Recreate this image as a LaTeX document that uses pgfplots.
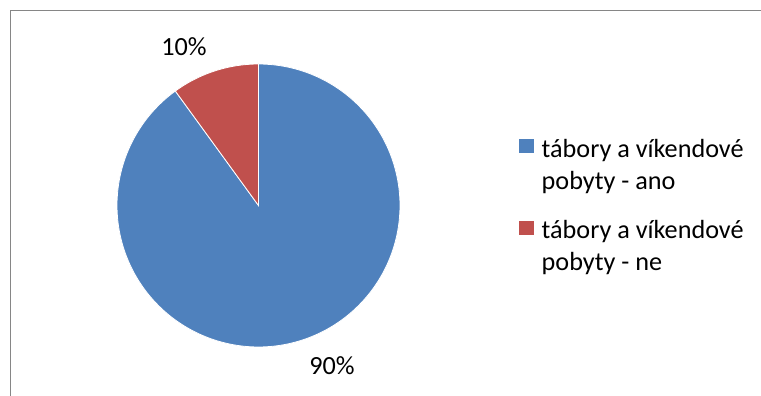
\documentclass[border=0pt]{standalone}
\usepackage{pgfplots}
\pgfplotsset{compat=1.18}
\usepackage{pgfplotstable}
\usepackage{fontspec}
\setmainfont{Carlito}
\definecolor{pieblue}{RGB}{79,129,189}
\definecolor{piered}{RGB}{192,80,77}
\definecolor{framegray}{RGB}{134,134,134}

\pgfplotstableread{
label value
ano 90
ne 10
}\piedata

\begin{document}%
\begin{tikzpicture}
\pgfplotstablegetelem{0}{value}\of\piedata
\let\vano\pgfplotsretval
\pgfplotstablegetelem{1}{value}\of\piedata
\let\vne\pgfplotsretval
\pgfmathsetmacro{\aStart}{90}
\pgfmathsetmacro{\aMid}{90+3.6*\vne}
\pgfmathsetmacro{\aEnd}{\aMid+3.6*\vano}
\begin{axis}[
  width=761pt, height=396pt, scale only axis,
  xmin=0, xmax=761, ymin=0, ymax=396,
  hide axis, clip=false,
  legend style={at={(axis cs:519,257.5)}, anchor=north west, draw=none, fill=none,
    inner sep=0pt, row sep=30pt, column sep=8pt,
    font=\fontsize{26.2}{30.5}\selectfont,
    nodes={align=left, inner sep=0pt, anchor=north west}},
  legend cell align=left,
  legend image code/.code={\fill[#1,draw=none] (0pt,-14.5pt) rectangle (14.5pt,0pt);},
]
\path[use as bounding box] (axis cs:0,0) rectangle (axis cs:761,396);
\addplot[fill=pieblue, draw=white, line width=0.8pt, domain=\aMid:\aEnd, samples=200]
  ({258.5+141.5*cos(x)}, {190.5+141.5*sin(x)}) -- (axis cs:258.5,190.5) -- cycle;
\addlegendentry{tábory a víkendové\\[1.5pt]pobyty - ano}
\addplot[fill=piered, draw=white, line width=0.8pt, domain=\aStart:\aMid, samples=40]
  ({258.5+141.5*cos(x)}, {190.5+141.5*sin(x)}) -- (axis cs:258.5,190.5) -- cycle;
\addlegendentry{tábory a víkendové\\[1.5pt]pobyty - ne}
\draw[framegray, line width=1.3pt] (axis cs:10.5,0) |- (axis cs:761,385.5);
\node[anchor=base, font=\fontsize{26.2}{31}\selectfont] at (axis cs:184,340) {\vne\%};
\node[anchor=base, font=\fontsize{26.2}{31}\selectfont] at (axis cs:332,21) {\vano\%};
\end{axis}
\end{tikzpicture}%
\end{document}
